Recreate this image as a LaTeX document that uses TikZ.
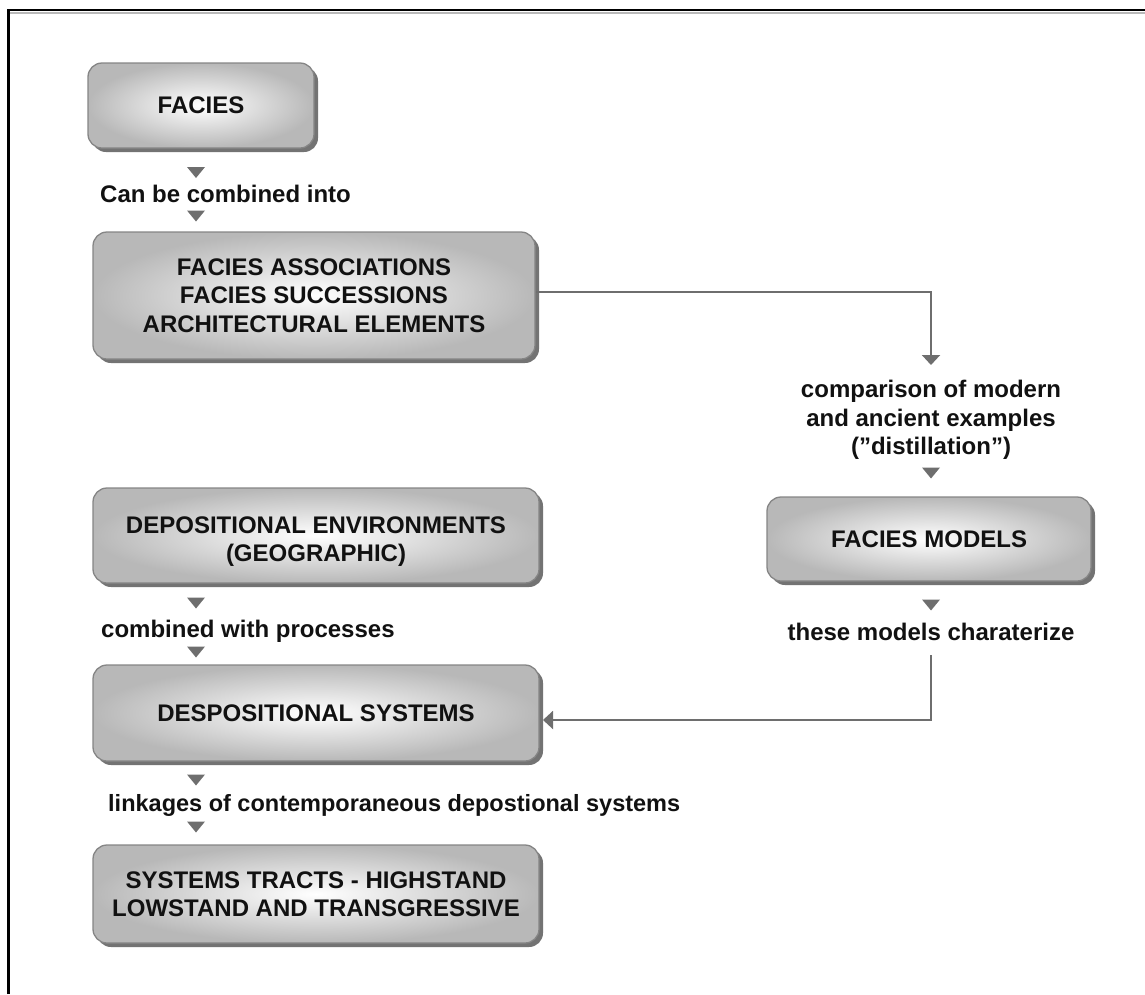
\documentclass[tikz,border=0pt]{standalone}
\usepackage{fontspec}
\setmainfont{Liberation Sans}
\usetikzlibrary{arrows.meta,shadows}
\definecolor{linegray}{HTML}{6E6E6E}
\definecolor{boxedge}{HTML}{858585}
\definecolor{boxouter}{HTML}{B8B8B8}
\definecolor{shadowgray}{HTML}{737373}
\definecolor{txt}{HTML}{111111}
\begin{document}
\begin{tikzpicture}[x=1pt,y=-1pt,
  boxtxt/.style={align=center, text=txt, font=\fontsize{24}{28.5}\selectfont\bfseries, inner sep=0pt},
  box/.style={boxtxt, draw=boxedge, line width=1.3pt, rounded corners=14pt,
    inner color=white, outer color=boxouter,
    drop shadow={shadow xshift=4pt, shadow yshift=-4pt, fill=shadowgray, opacity=1}},
  lbl/.style={font=\fontsize{24}{28.5}\selectfont\bfseries, align=center, inner sep=0pt, text=txt},
  conn/.style={draw=linegray, line width=2pt, -{Triangle[width=18pt,length=10pt]}},
  downtri/.pic={\fill[linegray] (-9,-5.5) -- (9,-5.5) -- (0,5.5) -- cycle;}
]
\useasboundingbox (0,0) rectangle (1145,994);
% frame
\draw[black, line width=2.6pt] (8.3,994) -- (8.3,10) -- (1145,10);
\draw[gray!55, line width=2pt] (9.6,12.5) -- (1145,12.5);

% boxes
\node[box, minimum width=226, minimum height=85] (A) at (201,105.5) {FACIES};
\node[box, minimum width=442, minimum height=127] (B) at (314,295.5)
  {FACIES ASSOCIATIONS\\FACIES SUCCESSIONS\\ARCHITECTURAL ELEMENTS};
\node[box, minimum width=324, minimum height=84] (C) at (929,539) {FACIES MODELS};
\node[box, minimum width=446, minimum height=95,
  label={[boxtxt, yshift=-6pt]center:{DEPOSITIONAL ENVIRONMENTS\\(GEOGRAPHIC)}}] (D) at (316,535.5) {};
\node[box, minimum width=446, minimum height=96] (E) at (316,713) {DESPOSITIONAL SYSTEMS};
\node[box, minimum width=446, minimum height=98] (F) at (316,894)
  {SYSTEMS TRACTS - HIGHSTAND\\LOWSTAND AND TRANSGRESSIVE};

% labels
\node[lbl, anchor=base west] (L1) at (100,202) {Can be combined into};
\node[lbl, anchor=base west] (L4) at (101,637) {combined with processes};
\node[lbl, anchor=base west, font=\fontsize{23.5}{28}\selectfont\bfseries] (L5) at (108,811) {linkages of contemporaneous depostional systems};
\node[lbl] (L2) at (931,420) {comparison of modern\\and ancient examples\\(”distillation”)};
\node[lbl] (L3) at (931,632) {these models charaterize};

% small triangles
\pic at (196,172.5) {downtri};
\pic at (196,216) {downtri};
\pic at (196,603) {downtri};
\pic at (196,652) {downtri};
\pic at (196,780) {downtri};
\pic at (196,827) {downtri};
\pic at (931,473) {downtri};
\pic at (931,605) {downtri};

% connectors
\coordinate (t1) at (931,365);
\coordinate (s1) at (536,292);
\draw[conn] (s1) -| (t1);
\coordinate (s2) at (931,655);
\coordinate (t2) at (543,720);
\draw[conn] (s2) |- (t2);
\end{tikzpicture}
\end{document}
